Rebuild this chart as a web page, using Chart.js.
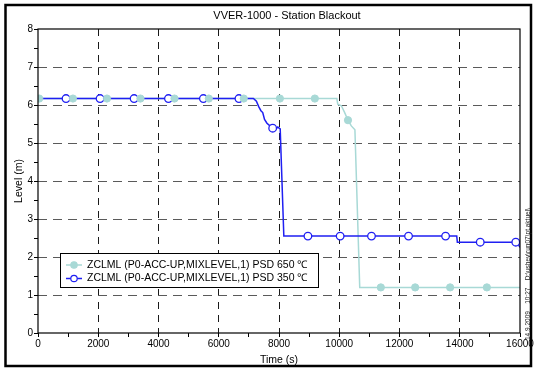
<!DOCTYPE html>
<html>
<head>
<meta charset="utf-8">
<script src="https://cdn.jsdelivr.net/npm/chart.js@4"></script>
<style>
html,body{margin:0;padding:0;background:#fff;}
#wrap{width:536px;height:370px;position:relative;}
</style>
</head>
<body>
<div id="wrap"><canvas id="c" width="536" height="370"></canvas></div>
<script>
// ---- data ----
const titleText = "VVER-1000 - Station Blackout";
const xTitle = "Time (s)";
const yTitle = "Level (m)";
const series650Label = "ZCLML (P0-ACC-UP,MIXLEVEL,1) PSD 650 \u2103";
const series350Label = "ZCLML (P0-ACC-UP,MIXLEVEL,1) PSD 350 \u2103";
const stampText = "14.9.2009    10:27    D:\\ushev\\run07\\pt.aktuel\\";

// PSD 650 line
const t650 = [0, 9920, 9950, 10070, 10180, 10290, 10400, 10520, 10680, 16000];
const lvl650 = [6.17, 6.17, 6.02, 5.98, 5.8, 5.6, 5.45, 5.35, 1.2, 1.2];
// PSD 650 markers
const t650Mark = [40, 1160, 2290, 3400, 4530, 5670, 6830, 8030, 9190, 10290, 11380, 12520, 13680, 14900];
const lvl650Mark = [6.17, 6.17, 6.17, 6.17, 6.17, 6.17, 6.17, 6.17, 6.17, 5.6, 1.2, 1.2, 1.2, 1.2];

// PSD 350 line
const t350 = [0, 7150, 7250, 7330, 7400, 7460, 7520, 7600, 7700, 7800, 7900, 7960, 8040, 8160, 13900, 13920, 15900, 16000];
const lvl350 = [6.17, 6.17, 6.1, 5.95, 5.85, 5.8, 5.62, 5.52, 5.45, 5.39, 5.37, 5.42, 5.37, 2.55, 2.55, 2.39, 2.39, 2.25];
// PSD 350 markers
const t350Mark = [930, 2060, 3190, 4330, 5490, 6670, 7790, 8960, 10030, 11070, 12300, 13530, 14680, 15860];
const lvl350Mark = [6.17, 6.17, 6.17, 6.17, 6.17, 6.17, 5.39, 2.55, 2.55, 2.55, 2.55, 2.55, 2.39, 2.39];

const xMin = 0, xMax = 16000, xMajor = 2000, xMinor = 1000;
const yMin = 0, yMax = 8, yMajor = 1, yMinor = 0.5;

const col650 = '#a8d9d6';
const col350 = '#1f1ff2';

function pts(xs, ys){ return xs.map((x,i)=>({x:x, y:ys[i]})); }

const FONT = 'Liberation Sans, Arial, sans-serif';

const decorPlugin = {
  id: 'decor',
  beforeDraw(chart){
    const ctx = chart.ctx;
    ctx.save();
    ctx.fillStyle = '#fff';
    ctx.fillRect(0,0,chart.width,chart.height);
    ctx.restore();
  },
  afterDatasetsDraw(chart){
    const ctx = chart.ctx;
    const a = chart.chartArea;
    ctx.save();
    // plot box
    ctx.strokeStyle = '#000';
    ctx.lineWidth = 1.2;
    ctx.strokeRect(a.left, a.top, a.right - a.left, a.bottom - a.top);
    // outer frame
    ctx.lineWidth = 2.5;
    ctx.strokeRect(5.5, 5, 525.5, 361);
    // title
    ctx.fillStyle = '#000';
    ctx.font = '11px ' + FONT;
    ctx.textAlign = 'center';
    ctx.textBaseline = 'middle';
    ctx.fillText(titleText, 287, 16);
    // stamp text (rotated)
    ctx.save();
    ctx.translate(528, 340);
    ctx.rotate(-Math.PI/2);
    ctx.font = '6.5px ' + FONT;
    ctx.textAlign = 'left';
    ctx.fillStyle = '#222';
    ctx.fillText(stampText, 0, 0);
    ctx.restore();
    // legend
    const lx = 60, ly = 253, lw = 258, lh = 34;
    ctx.fillStyle = '#fff';
    ctx.fillRect(lx, ly, lw, lh);
    ctx.lineWidth = 1;
    ctx.strokeStyle = '#000';
    ctx.strokeRect(lx+0.5, ly+0.5, lw, lh);
    const rows = [
      {label: series650Label, color: col650, fill: col650, y: 265},
      {label: series350Label, color: col350, fill: '#fff', y: 278.5}
    ];
    rows.forEach(r=>{
      ctx.strokeStyle = r.color;
      ctx.lineWidth = 1.5;
      ctx.beginPath();
      ctx.moveTo(66, r.y); ctx.lineTo(82, r.y);
      ctx.stroke();
      ctx.beginPath();
      ctx.arc(74, r.y, 3.2, 0, Math.PI*2);
      ctx.fillStyle = r.fill;
      ctx.fill();
      ctx.lineWidth = 1.2;
      ctx.stroke();
      ctx.fillStyle = '#000';
      ctx.font = '10.5px ' + FONT;
      ctx.textAlign = 'left';
      ctx.textBaseline = 'middle';
      ctx.fillText(r.label, 87, r.y);
    });
    ctx.restore();
  }
};

new Chart(document.getElementById('c'), {
  type: 'scatter',
  data: {
    datasets: [
      {label: series650Label + ' markers', data: pts(t650Mark, lvl650Mark), showLine: false,
       pointRadius: 3.6, pointBackgroundColor: col650, pointBorderColor: col650, pointBorderWidth: 1},
      {label: series350Label + ' markers', data: pts(t350Mark, lvl350Mark), showLine: false,
       pointRadius: 3.8, pointBackgroundColor: '#fff', pointBorderColor: col350, pointBorderWidth: 1.3},
      {label: series350Label, data: pts(t350, lvl350), showLine: true, pointRadius: 0,
       borderColor: col350, borderWidth: 1.5, fill: false, tension: 0},
      {label: series650Label, data: pts(t650, lvl650), showLine: true, pointRadius: 0,
       borderColor: col650, borderWidth: 1.5, fill: false, tension: 0}
    ]
  },
  options: {
    responsive: false,
    animation: false,
    events: [],
    layout: {padding: {left: 8, top: 29, right: 16, bottom: 4}},
    plugins: {legend: {display: false}, tooltip: {enabled: false}, title: {display: false}},
    scales: {
      x: {
        type: 'linear', min: xMin, max: xMax,
        afterFit(s){ s.height = 33; },
        afterBuildTicks(s){ const t=[]; for(let v=xMin; v<=xMax; v+=xMinor) t.push({value:v}); s.ticks = t; },
        ticks: {
          autoSkip: false, maxRotation: 0, padding: 1,
          color: '#000', font: {family: FONT, size: 10},
          callback: (v)=> (v % xMajor === 0 ? String(v) : '')
        },
        grid: {
          color: (c)=> (c.tick && c.tick.value % xMajor === 0 && c.tick.value !== xMin && c.tick.value !== xMax) ? '#1a1a1a' : 'rgba(0,0,0,0)',
          tickColor: '#000', tickLength: 4, lineWidth: 1
        },
        border: {display: false, dash: [7, 6]},
        title: {display: true, text: xTitle, color: '#000', font: {family: FONT, size: 10.5}, padding: {top: 2, bottom: 0}}
      },
      y: {
        type: 'linear', min: yMin, max: yMax,
        afterFit(s){ s.width = 30; },
        afterBuildTicks(s){ const t=[]; for(let v=yMin; v<=yMax+1e-9; v+=yMinor) t.push({value:Math.round(v*10)/10}); s.ticks = t; },
        ticks: {
          autoSkip: false, padding: 1,
          color: '#000', font: {family: FONT, size: 10},
          callback: (v)=> (Math.abs(v - Math.round(v)) < 1e-9 ? String(v) : '')
        },
        grid: {
          color: (c)=> (c.tick && Number.isInteger(c.tick.value) && c.tick.value !== yMin && c.tick.value !== yMax) ? '#5a5a5a' : 'rgba(0,0,0,0)',
          tickColor: '#000', tickLength: 4, lineWidth: 1
        },
        border: {display: false, dash: [9, 6]},
        title: {display: true, text: yTitle, color: '#000', font: {family: FONT, size: 10.5}, padding: {top: 5, bottom: 0}}
      }
    }
  },
  plugins: [decorPlugin]
});
</script>
</body>
</html>
